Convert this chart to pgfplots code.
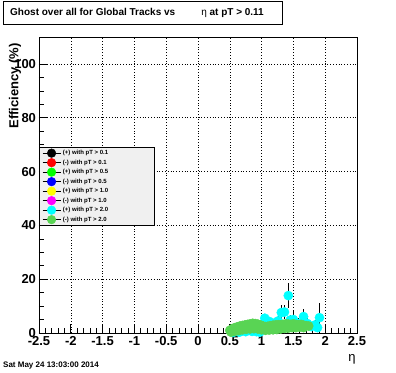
\documentclass[border=0pt]{standalone}
\usepackage{fontspec}
\setmainfont{Liberation Sans}
\usepackage{pgfplots}
\pgfplotsset{compat=1.18}
\definecolor{rootgreen}{RGB}{89,212,84}
\definecolor{legbg}{RGB}{240,240,240}
\definecolor{rcyan}{RGB}{0,255,255}
\definecolor{rmagenta}{RGB}{255,0,255}
\definecolor{ryellow}{RGB}{255,255,0}
\definecolor{rgreen}{RGB}{0,255,0}
\definecolor{rred}{RGB}{255,0,0}
\definecolor{rblue}{RGB}{0,0,255}
\begin{document}
\begin{tikzpicture}[x=1pt,y=1pt]
\useasboundingbox (0,0) rectangle (396,372);
\begin{axis}[
  at={(39pt,39pt)}, anchor=south west,
  scale only axis, width=318pt, height=296pt,
  xmin=-2.5, xmax=2.5, ymin=0, ymax=110,
  xtick={-2.5,-2,-1.5,-1,-0.5,0,0.5,1,1.5,2,2.5},
  ytick={0,20,40,60,80,100},
  minor x tick num=4, minor y tick num=3,
  tick pos=left, tick align=inside,
  major tick length=9pt, minor tick length=4.5pt,
  tick style={black, line width=0.6pt},
  grid=major,
  grid style={black, line width=0.5pt, dash pattern=on 0.8pt off 2pt},
  axis line style={line width=0.8pt},
  /pgf/number format/assume math mode=true,
  /pgf/number format/fixed,
  ticklabel style={font=\bfseries\fontsize{13}{13}\selectfont},
  xticklabel style={yshift=0pt},
  yticklabel style={xshift=0.5pt},
  legend style={at={(0,0.628)}, anchor=north west, draw=black, line width=0.5pt,
    fill=legbg, font=\bfseries\fontsize{6}{7}\selectfont, row sep=0.9pt,
    inner xsep=3pt, inner ysep=1.5pt, nodes={inner ysep=0.6pt}},
  legend cell align=left,
  legend image code/.code={
    \draw[black,line width=0.6pt] (0pt,0pt) -- (18pt,0pt);
    \draw[mark repeat=2,mark phase=2,#1] plot coordinates {(0pt,0pt) (9pt,0pt) (18pt,0pt)};
  },
  error bars/y dir=both, error bars/y explicit,
  error bars/error mark=none,
  error bars/error bar style={black, line width=0.7pt},
]
\addlegendimage{only marks, mark=*, mark size=4.3pt, black}
\addlegendentry{\makebox[86pt][l]{(+) with pT > 0.1}}
\addlegendimage{only marks, mark=*, mark size=4.3pt, rred}
\addlegendentry{\makebox[86pt][l]{(-) with pT > 0.1}}
\addlegendimage{only marks, mark=*, mark size=4.3pt, rgreen}
\addlegendentry{\makebox[86pt][l]{(+) with pT > 0.5}}
\addlegendimage{only marks, mark=*, mark size=4.3pt, rblue}
\addlegendentry{\makebox[86pt][l]{(-) with pT > 0.5}}
\addlegendimage{only marks, mark=*, mark size=4.3pt, ryellow}
\addlegendentry{\makebox[86pt][l]{(+) with pT > 1.0}}
\addlegendimage{only marks, mark=*, mark size=4.3pt, rmagenta}
\addlegendentry{\makebox[86pt][l]{(-) with pT > 1.0}}
\addlegendimage{only marks, mark=*, mark size=4.3pt, rcyan}
\addlegendentry{\makebox[86pt][l]{(+) with pT > 2.0}}
\addlegendimage{only marks, mark=*, mark size=4.3pt, rootgreen}
\addlegendentry{\makebox[86pt][l]{(-) with pT > 2.0}}

% (+) with pT > 2.0
\addplot[only marks, mark=*, mark size=4.6pt, rcyan, forget plot]
  table[x=x, y=y, y error=e] {
x y e
0.55 0.2 0.3
0.65 0.3 0.3
0.75 0.5 0.4
0.85 0.6 0.4
0.92 0.5 0.4
0.97 0.3 0.4
1.05 5.5 1.5
1.12 4.3 1.5
1.20 3.7 1.5
1.26 4.5 2.0
1.31 7.6 2.8
1.36 7.8 2.6
1.42 13.9 4.7
1.45 4.8 2.0
1.50 5.0 2.5
1.58 3.5 2.0
1.66 6.1 3.0
1.72 3.5 2.0
1.78 2.4 1.5
1.84 3.0 2.0
1.88 2.0 1.5
1.91 5.7 5.4
};
% (-) with pT > 2.0
\addplot[only marks, mark=*, mark size=4.6pt, rootgreen, forget plot]
  table[x=x, y=y, y error=e] {
x y e
0.50 1.0 0.5
0.54 1.6 0.5
0.58 2.0 0.5
0.62 2.3 0.5
0.66 2.6 0.5
0.70 2.8 0.5
0.74 3.0 0.5
0.78 3.2 0.5
0.82 3.4 0.5
0.86 3.6 0.5
0.90 3.5 0.5
0.94 3.3 0.5
0.98 3.0 0.5
1.02 2.6 0.5
1.06 2.4 0.5
1.10 2.5 0.5
1.14 2.7 0.8
1.18 2.9 0.8
1.22 3.0 1.0
1.26 3.1 1.0
1.30 3.0 1.2
1.34 3.2 1.5
1.38 3.4 1.5
1.42 3.3 1.5
1.46 3.2 2.0
1.50 3.4 5.0
1.54 3.2 2.0
1.58 3.0 2.0
1.62 3.2 2.0
1.66 2.9 2.0
1.70 2.7 3.0
1.74 2.6 1.5
0.52 0.3 0.3
0.58 0.6 0.3
0.64 0.9 0.3
0.70 1.2 0.3
0.76 1.4 0.3
0.82 1.5 0.3
0.88 1.6 0.3
0.94 1.5 0.3
1.00 1.2 0.3
1.06 1.0 0.3
1.12 1.1 0.3
1.18 1.2 0.3
1.24 1.3 0.3
1.30 1.5 0.3
1.36 1.7 0.3
1.42 1.8 0.3
1.48 2.0 0.3
1.54 2.0 0.3
1.60 2.2 0.3
1.66 2.0 0.3
};
\end{axis}
% title box
\draw[line width=0.8pt] (3,348) rectangle (282,371);
\node[anchor=base west, inner sep=0, font=\bfseries\fontsize{10}{12}\selectfont] at (10,356) {Ghost over all for Global Tracks vs\hspace{26pt}{\mdseries η} at pT > 0.11};
% y axis title
\node[rotate=90, anchor=east, inner sep=0, font=\bfseries\fontsize{13}{13}\selectfont] at (15,329) {Efficiency (\%)};
% x axis title
\node[inner sep=0, font=\fontsize{13}{13}\selectfont] at (352,13) {η};
% date stamp
\node[anchor=base west, inner sep=0, font=\bfseries\fontsize{8}{8}\selectfont] at (3,5) {Sat May 24 13:03:00 2014};
\end{tikzpicture}
\end{document}
